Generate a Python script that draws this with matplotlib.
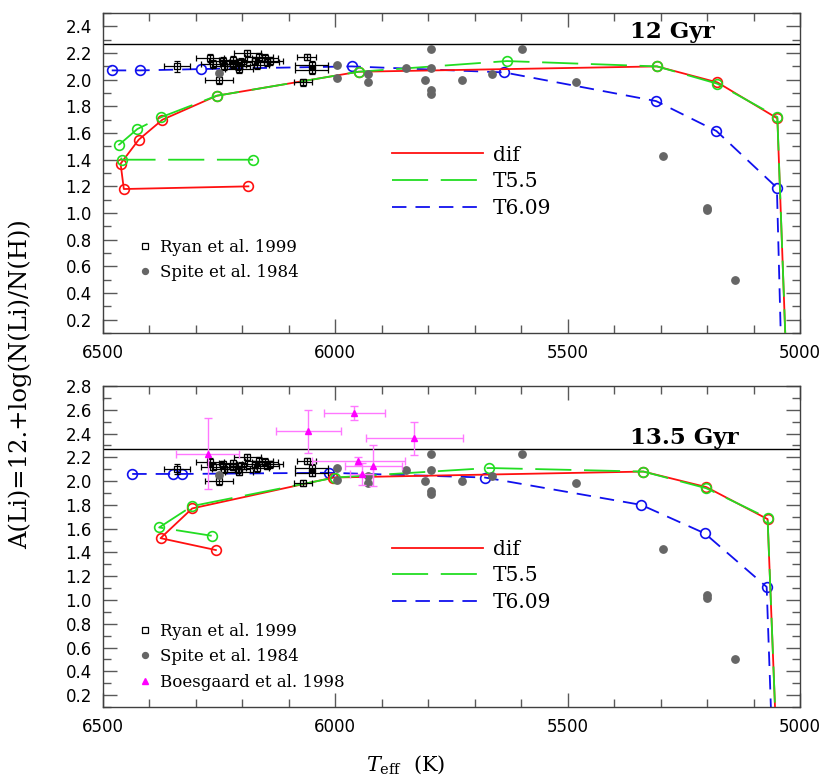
import matplotlib
matplotlib.use('Agg')
import matplotlib.pyplot as plt
from matplotlib.lines import Line2D
from matplotlib.ticker import MultipleLocator

# ---- model tracks, 12 Gyr (Teff [K], A(Li)) ----
dif12_t = [6187, 6455, 6462, 6423, 6372, 6255, 5950, 5308, 5178, 5049, 5031]
dif12_a = [1.20, 1.18, 1.37, 1.55, 1.70, 1.88, 2.06, 2.10, 1.98, 1.71, 0.0]
t55_12_t = [6177, 6460, 6466, 6426, 6374, 6255, 5950, 5631, 5308, 5178, 5049, 5031]
t55_12_a = [1.40, 1.40, 1.51, 1.63, 1.72, 1.88, 2.06, 2.14, 2.10, 1.97, 1.72, 0.0]
t609_12_t = [6481, 6420, 6290, 5965, 5637, 5310, 5180, 5050, 5041]
t609_12_a = [2.07, 2.07, 2.08, 2.10, 2.055, 1.84, 1.615, 1.19, 0.0]

# ---- model tracks, 13.5 Gyr ----
dif135_t = [6257, 6376, 6308, 6004, 5337, 5202, 5070, 5053]
dif135_a = [1.42, 1.52, 1.77, 2.03, 2.08, 1.95, 1.68, 0.0]
t55_135_t = [6266, 6379, 6308, 6000, 5669, 5337, 5202, 5070, 5053]
t55_135_a = [1.54, 1.61, 1.79, 2.03, 2.11, 2.08, 1.94, 1.69, 0.0]
t609_135_t = [6437, 6350, 6329, 6014, 5678, 5342, 5205, 5072, 5062]
t609_135_a = [2.06, 2.06, 2.06, 2.07, 2.03, 1.80, 1.56, 1.11, 0.0]

# ---- observations ----
ryan_t = [6340, 6270, 6263, 6241, 6240, 6221, 6220, 6209, 6207, 6204, 6189,
          6173, 6168, 6164, 6151, 6146, 6141, 6250, 6062, 6051, 6051, 6070]
ryan_a = [2.10, 2.16, 2.12, 2.14, 2.10, 2.15, 2.12, 2.10, 2.08, 2.13, 2.20,
          2.14, 2.11, 2.17, 2.16, 2.13, 2.14, 2.00, 2.17, 2.11, 2.07, 1.98]
ryan_xerr = [28, 30, 25, 30, 25, 30, 28, 25, 30, 25, 30,
             28, 25, 30, 28, 25, 28, 30, 20, 36, 36, 19]
ryan_yerr = [0.04, 0.03, 0.03, 0.03, 0.03, 0.03, 0.03, 0.03, 0.03, 0.03, 0.025,
             0.03, 0.03, 0.03, 0.03, 0.03, 0.03, 0.035, 0.025, 0.03, 0.03, 0.025]

spite_t = [6250, 5997, 5997, 5929, 5929, 5848, 5794, 5794, 5807, 5794, 5794,
           5728, 5662, 5598, 5483, 5296, 5201, 5201, 5140]
spite_a = [2.05, 2.11, 2.01, 2.04, 1.98, 2.09, 2.23, 2.09, 2.00, 1.92, 1.89,
           2.00, 2.04, 2.23, 1.98, 1.43, 1.04, 1.02, 0.50]

boes_t = [6275, 6058, 5959, 5830, 5951, 5918, 5943]
boes_a = [2.23, 2.42, 2.57, 2.36, 2.17, 2.13, 2.06]
boes_xerr = [67, 70, 66, 105, 100, 61, 25]
boes_yerr = [0.30, 0.18, 0.06, 0.14, 0.035, 0.175, 0.09]

li_line = 2.27

RED = '#ff1010'
GREEN = '#22dd22'
BLUE = '#1010ee'
GRAY = '#666666'
MAG = '#ff00ff'

plt.rcParams['font.family'] = ['DejaVu Serif']
plt.rcParams['mathtext.fontset'] = 'dejavuserif'

fig = plt.figure(figsize=(8.3, 7.84), dpi=100)
ax1 = fig.add_axes([0.124, 0.5753, 0.840, 0.408])
ax2 = fig.add_axes([0.124, 0.0982, 0.840, 0.4095])


def draw_models(ax, dt, da, gt, ga, bt, ba):
    kw = dict(marker='o', mfc='none', ms=7, mew=1.2, lw=1.3)
    ax.plot(bt, ba, color=BLUE, dashes=(8, 5), markevery=list(range(len(bt) - 1)), zorder=2, **kw)
    ax.plot(dt, da, color=RED, markevery=list(range(len(dt) - 1)), zorder=3, **kw)
    ax.plot(gt, ga, color=GREEN, dashes=(20, 7), markevery=list(range(len(gt) - 1)), zorder=4, **kw)


def draw_obs(ax, boes=False):
    hs = []
    eb = ax.errorbar(ryan_t, ryan_a, xerr=ryan_xerr, yerr=ryan_yerr, fmt='s', mfc='none',
                     mec='black', ms=5, mew=0.9, ecolor='black', elinewidth=0.9,
                     capsize=2.5, capthick=0.9, zorder=5)
    hs.append(eb[0])
    sp, = ax.plot(spite_t, spite_a, 'o', color=GRAY, ms=5.3, zorder=6, ls='none')
    hs.append(sp)
    if boes:
        eb2 = ax.errorbar(boes_t, boes_a, xerr=boes_xerr, yerr=boes_yerr, fmt='^', color=MAG,
                          ms=5, ecolor='#ff77ff', elinewidth=1.0, capsize=3, capthick=1.0,
                          zorder=7)
        hs.append(eb2[0])
    return hs


def style(ax, ymax):
    ax.set_xlim(6500, 5000)
    ax.set_ylim(0.1, ymax)
    ax.xaxis.set_major_locator(MultipleLocator(500))
    ax.xaxis.set_minor_locator(MultipleLocator(100))
    ax.yaxis.set_major_locator(MultipleLocator(0.2))
    ax.yaxis.set_minor_locator(MultipleLocator(0.1))
    ax.tick_params(which='both', direction='in', top=True, right=True, color='0.35')
    ax.tick_params(which='major', length=10, width=1.0, labelsize=12, pad=8)
    ax.tick_params(which='minor', length=6, width=1.0)
    for lab in ax.get_xticklabels() + ax.get_yticklabels():
        lab.set_family('DejaVu Sans')
    ax.yaxis.set_major_formatter(matplotlib.ticker.FormatStrFormatter('%.1f'))
    for s in ax.spines.values():
        s.set_color('0.25')
        s.set_linewidth(1.0)
    ax.axhline(li_line, color='black', lw=1.0, zorder=1)


line_handles = [Line2D([], [], color=RED, lw=1.3),
                Line2D([], [], color=GREEN, lw=1.3, dashes=(20, 7)),
                Line2D([], [], color=BLUE, lw=1.3, dashes=(8, 5))]
line_labels = ['dif', 'T5.5', 'T6.09']
obs_labels = ['Ryan et al. 1999', 'Spite et al. 1984', 'Boesgaard et al. 1998']

for ax, ymax, models, boes, age, age_y, leg1_y, leg2_y in [
        (ax1, 2.5, (dif12_t, dif12_a, t55_12_t, t55_12_a, t609_12_t, t609_12_a), False, '12 Gyr', 0.942, 0.586, 0.295),
        (ax2, 2.8, (dif135_t, dif135_a, t55_135_t, t55_135_a, t609_135_t, t609_135_a), True, '13.5 Gyr', 0.837, 0.521, 0.262)]:
    style(ax, ymax)
    draw_models(ax, *models)
    hs = draw_obs(ax, boes)
    lg1 = ax.legend(line_handles, line_labels, loc='upper left', bbox_to_anchor=(0.415, leg1_y),
                    frameon=False, fontsize=14.5, handlelength=4.5, handletextpad=0.5,
                    labelspacing=0.38, borderpad=0, borderaxespad=0)
    ax.add_artist(lg1)
    ax.legend(hs, obs_labels[:len(hs)], loc='upper left', bbox_to_anchor=(0.05, leg2_y),
              frameon=False, fontsize=12, handlelength=0.9, handletextpad=0.45,
              labelspacing=0.5, borderpad=0, borderaxespad=0, markerscale=0.8)
    ax.text(0.756, age_y, age, transform=ax.transAxes, ha='left', va='center',
            fontsize=16.5, fontweight='bold')

fig.text(0.025, 0.51, 'A(Li)=12.+log(N(Li)/N(H))', rotation=90, ha='center', va='center', fontsize=17.5)
fig.text(0.489, 0.024, r'$T_{\rm eff}$  (K)', ha='center', va='center', fontsize=15)

fig.savefig('out.png', dpi=100)
